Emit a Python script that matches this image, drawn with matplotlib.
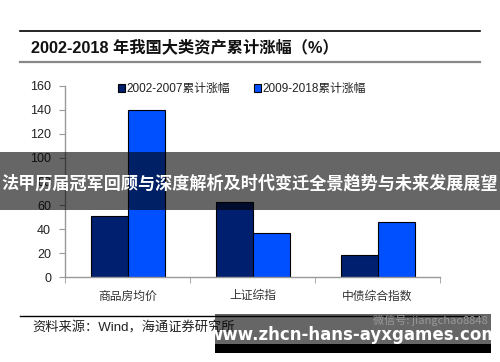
import matplotlib
matplotlib.use("Agg")
import matplotlib.pyplot as plt
from matplotlib.patches import Rectangle
from matplotlib.lines import Line2D

plt.rcParams['font.family'] = ['Liberation Sans', 'Noto Sans CJK SC', 'DejaVu Sans']

categories = ["商品房均价", "上证综指", "中债综合指数"]
series_names = ["2002-2007累计涨幅", "2009-2018累计涨幅"]
vals_0207 = [51.5, 63, 18.5]
vals_0918 = [139.5, 37, 46]
yticks = [0, 20, 40, 60, 80, 100, 120, 140, 160]
title = "2002-2018 年我国大类资产累计涨幅（%）"
source = "资料来源：Wind，海通证券研究所"
banner = "法甲历届冠军回顾与深度解析及时代变迁全景趋势与未来发展展望"
watermark = "www.zhcn-hans-ayxgames.com"
wechat = "微信号: jiangchao8848"

W, H = 500, 362
fig = plt.figure(figsize=(W / 100, H / 100), dpi=100)

def fx(px):
    return px / W

def fy(py):
    return 1 - py / H

dark = "#00206f"
blue = "#0050ff"

ax = fig.add_axes([fx(65), fy(277), fx(440) - fx(65), fy(86) - fy(277)])
x = list(range(len(categories)))
bw = 0.296
ax.bar([i - bw / 2 for i in x], vals_0207, width=bw, color=dark, edgecolor="black", linewidth=0.8, label=series_names[0])
ax.bar([i + bw / 2 for i in x], vals_0918, width=bw, color=blue, edgecolor="black", linewidth=0.8, label=series_names[1])
ax.set_xlim(-0.5, 2.5)
ax.set_ylim(0, 160)
ax.set_yticks(yticks)
ax.set_yticklabels([str(v) for v in yticks], fontsize=9, color="#222222")
ax.set_xticks(x)
ax.set_xticklabels(categories, fontsize=8.5, color="#333333", family=['Noto Sans CJK SC'])
ax.tick_params(axis="x", length=0, pad=9)
ax.set_xticks([-0.5, 0.5, 1.5, 2.5], minor=True)
ax.tick_params(axis="x", which="minor", length=4, color="#999999", direction="out")
ax.tick_params(axis="y", length=4, color="#999999", pad=6)
for s in ["top", "right"]:
    ax.spines[s].set_visible(False)
for s in ["left", "bottom"]:
    ax.spines[s].set_color("#999999")
    ax.spines[s].set_linewidth(1.0)

# legend
handles = [Rectangle((0, 0), 1, 1, facecolor=dark, edgecolor="black", linewidth=0.8),
           Rectangle((0, 0), 1, 1, facecolor=blue, edgecolor="black", linewidth=0.8)]
leg = fig.legend(handles, series_names, loc="center left", bbox_to_anchor=(fx(118), fy(89)),
                 ncol=2, frameon=False, fontsize=8.5, handlelength=0.6, handleheight=0.6,
                 handletextpad=0.15, columnspacing=2.0, borderaxespad=0, borderpad=0)
for t in leg.get_texts():
    t.set_color("#222222")

# header lines and title
fig.add_artist(Line2D([fx(20), fx(480)], [fy(31), fy(31)], color="black", linewidth=1.2))
fig.add_artist(Line2D([fx(20), fx(480)], [fy(62), fy(62)], color="#888888", linewidth=1.6))
fig.text(fx(31), fy(47), title, fontsize=11.7, fontweight="bold", ha="left", va="center", color="#111111")

# footer
fig.add_artist(Line2D([fx(20), fx(480)], [fy(316), fy(316)], color="black", linewidth=1.0))
fig.text(fx(32), fy(328), source, fontsize=9.5, ha="left", va="center", color="#222222")

# banner overlay
fig.add_artist(Rectangle((0, fy(210)), 1, fy(152) - fy(210), transform=fig.transFigure,
                         facecolor="black", alpha=0.6, edgecolor="none", zorder=10))
fig.text(0.5, fy(183), banner, fontsize=12.3, fontweight="bold", color="white",
         ha="center", va="center", zorder=11, family=['Noto Sans CJK SC'])

# watermark overlay
fig.add_artist(Rectangle((fx(215), fy(344)), fx(491) - fx(215), fy(314) - fy(344), transform=fig.transFigure,
                         facecolor="black", alpha=0.6, edgecolor="none", zorder=10))
fig.add_artist(Rectangle((fx(215), fy(353)), fx(491) - fx(215), fy(344) - fy(353), transform=fig.transFigure,
                         facecolor="black", edgecolor="none", zorder=10))
fig.text(fx(488), fy(320), wechat, fontsize=8, color="#999999", ha="right", va="center", zorder=11,
         family=['Noto Sans CJK SC'])
fig.text(fx(353), fy(335), watermark, fontsize=12, fontweight="bold", color="white",
         ha="center", va="center", zorder=12, family=['DejaVu Sans'])

fig.savefig("out.png", dpi=100)
